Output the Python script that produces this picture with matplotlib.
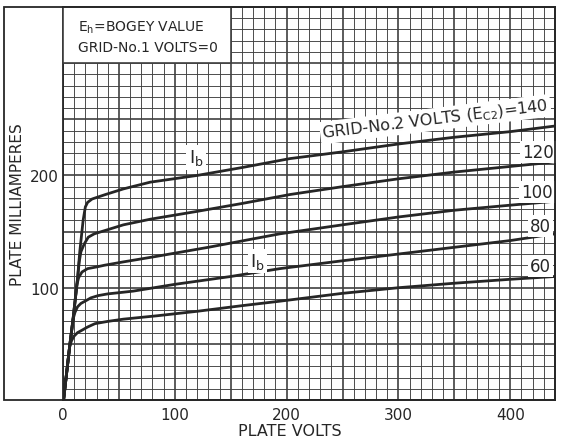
import numpy as np
import matplotlib.pyplot as plt
import matplotlib as mpl
from matplotlib.patches import Rectangle
from matplotlib.ticker import MultipleLocator, FuncFormatter

mpl.rc('font', family='DejaVu Sans', size=10)
INK = "#262626"
GRID = "#404040"

# plate volts / plate milliamperes, one pair of lists per screen-grid voltage
v60 = [0.5, 3, 6, 7.7, 10, 13, 16.7, 22, 28.6, 40, 54, 84, 120, 160, 194, 250, 300, 350, 400, 440]
i60 = [0, 22, 48, 53, 57, 60, 62, 65, 68, 70, 72, 75, 79, 84, 88, 95, 100, 104, 107.5, 110]

v80 = [0.5, 3, 6, 9, 10.7, 13, 16, 19.7, 25, 31.6, 40, 54, 63, 100, 150, 194, 250, 300, 350, 400, 440]
i80 = [0, 22, 48, 72, 78, 83, 86, 88, 91, 93, 94.5, 96, 97, 103, 110, 117, 124, 130, 136, 142, 148]

v100 = [0.5, 3, 6, 9, 11, 12.5, 14, 17, 22, 30, 37, 54, 84, 130, 194, 250, 300, 350, 400, 440]
i100 = [0, 22, 48, 72, 90, 103, 109, 114, 117, 118.5, 120, 123, 128, 136, 148, 156, 163, 169, 173.5, 177]

v120 = [0.5, 3, 6, 9, 11, 13, 14.5, 16, 19, 22.6, 28, 34.5, 54, 78, 120, 160, 203, 250, 300, 350, 400, 440]
i120 = [0, 22, 48, 72, 90, 108, 123, 132, 139, 145, 148, 150, 156, 161, 168, 175, 183, 190, 197, 203, 208, 212]

v140 = [0.5, 3, 6, 9, 11, 13, 15, 18, 20, 22, 26, 32, 38, 54, 78, 120, 160, 203, 250, 300, 350, 400, 440]
i140 = [0, 22, 48, 72, 90, 108, 132, 160, 172, 176, 179, 181, 183, 188, 194, 200, 207, 215, 221, 228, 234, 239, 244]

curves = [(v60, i60), (v80, i80), (v100, i100), (v120, i120), (v140, i140)]

# right-hand curve labels (value, volts, mA)
ec2_labels = ["60", "80", "100", "120"]
ec2_label_v = [427, 427, 424, 425]
ec2_label_i = [119, 155, 185, 221]

x_labels = [0, 100, 200, 300, 400]
y_labels = [100, 200]

fig = plt.figure(figsize=(5.65, 4.39), dpi=100)
ax = fig.add_axes([63 / 565, 38 / 439, 492 / 565, 393 / 439])

ax.set_xlim(0, 440)
ax.set_ylim(0, 350)

ax.xaxis.set_major_locator(MultipleLocator(50))
ax.xaxis.set_minor_locator(MultipleLocator(10))
ax.yaxis.set_major_locator(MultipleLocator(50))
ax.yaxis.set_minor_locator(MultipleLocator(10))
ax.xaxis.set_major_formatter(FuncFormatter(lambda v, p: f"{int(round(v))}" if round(v) in x_labels else ""))
ax.yaxis.set_major_formatter(FuncFormatter(lambda v, p: f"{int(round(v))}" if round(v) in y_labels else ""))
ax.tick_params(which='both', length=0, colors=INK, labelsize=11)
ax.tick_params(axis='x', pad=5)
ax.tick_params(axis='y', pad=3)

ax.grid(which='major', color=GRID, lw=1.2)
ax.grid(which='minor', color=GRID, lw=0.65)
ax.set_axisbelow(True)
for s in ax.spines.values():
    s.set_color(INK)
    s.set_linewidth(1.3)

for v, i in curves:
    ax.plot(v, i, color=INK, lw=2.0, solid_capstyle='round', solid_joinstyle='round', zorder=3)

# condition box in the top-left corner
ax.add_patch(Rectangle((0, 300), 150, 50, facecolor='white', edgecolor=GRID, lw=1.2, zorder=4))
ax.text(13, 332, r"E$_\mathregular{h}$=BOGEY VALUE", color=INK, fontsize=10, va='center', zorder=5)
ax.text(13, 314, "GRID-No.1 VOLTS=0", color=INK, fontsize=10, va='center', zorder=5)

box = dict(facecolor='white', edgecolor='none', pad=1.5)
ax.text(333, 250, r"GRID-No.2 VOLTS (E$_\mathregular{C2}$)=140", color=INK, fontsize=11.5,
        rotation=7, ha='center', va='center', bbox=box, zorder=5)
for lab, v, i in zip(ec2_labels, ec2_label_v, ec2_label_i):
    ax.text(v, i, lab, color=INK, fontsize=12, ha='center', va='center', bbox=box, zorder=5)

ax.text(119, 216, r"I$_\mathregular{b}$", color=INK, fontsize=13, ha='center', va='center', bbox=box, zorder=5)
ax.text(174, 124, r"I$_\mathregular{b}$", color=INK, fontsize=13, ha='center', va='center', bbox=box, zorder=5)

ax.set_ylabel("PLATE MILLIAMPERES", color=INK, fontsize=11)
ax.yaxis.set_label_coords(-0.077, 0.5)
fig.text(290 / 565, 1 - 432 / 439, "PLATE VOLTS", color=INK, fontsize=11.5, ha='center', va='center')

# outer frame around the label strip and the grid
fig.add_artist(Rectangle((4 / 565, 38 / 439), 551 / 565, 393 / 439, transform=fig.transFigure,
                         fill=False, edgecolor=INK, lw=1.3))

fig.savefig("out.png", dpi=100, facecolor='white')
